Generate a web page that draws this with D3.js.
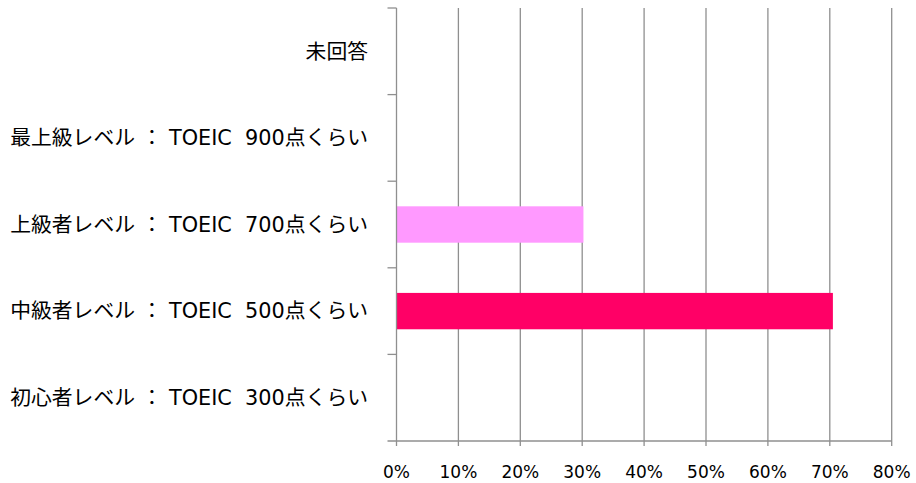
<!DOCTYPE html>
<html>
<head>
<meta charset="utf-8">
<script src="https://cdn.jsdelivr.net/npm/d3@7"></script>
<style>
  body { margin: 0; background: #fff; }
  text { font-family: "DejaVu Sans", "Noto Sans CJK JP", sans-serif; fill: #000; }
</style>
</head>
<body>
<script>
// categories top to bottom
const categories = [
  "未回答",
  "最上級レベル\u00a0：\u00a0TOEIC\u00a0\u00a0900点くらい",
  "上級者レベル\u00a0：\u00a0TOEIC\u00a0\u00a0700点くらい",
  "中級者レベル\u00a0：\u00a0TOEIC\u00a0\u00a0500点くらい",
  "初心者レベル\u00a0：\u00a0TOEIC\u00a0\u00a0300点くらい"
]
const values = [0, 0, 30.2, 70.5, 0]
const barColors = ["#FF99FF", "#FF99FF", "#FF99FF", "#FF0066", "#FF99FF"]
const xTicks = [0, 10, 20, 30, 40, 50, 60, 70, 80]

const W = 916, H = 483
const m = { left: 396.5, right: 891.7, top: 8, bottom: 441 }

const svg = d3.select("body").append("svg")
  .attr("width", W).attr("height", H)

const x = d3.scaleLinear().domain([0, 80]).range([m.left, m.right])
const y = d3.scaleBand().domain(categories).range([m.top, m.bottom]).paddingInner(0.58).paddingOuter(0.29)
const band = (m.bottom - m.top) / categories.length

const grid = svg.append("g")
grid.selectAll("line")
  .data(xTicks.slice(1))
  .enter()
  .append("line")
  .attr("x1", d => x(d)).attr("x2", d => x(d))
  .attr("y1", m.top).attr("y2", m.bottom + 5)
  .attr("stroke", "#8f8f8f").attr("stroke-width", 1.3)

// bars
svg.append("g").selectAll("rect")
  .data(values)
  .enter()
  .append("rect")
  .attr("x", x(0))
  .attr("y", (d, i) => y(categories[i]))
  .attr("width", d => x(d) - x(0))
  .attr("height", y.bandwidth())
  .attr("fill", (d, i) => barColors[i])

// y axis line + ticks
const ax = svg.append("g").attr("stroke", "#8f8f8f").attr("stroke-width", 1.3)
ax.append("line").attr("x1", m.left).attr("x2", m.left).attr("y1", m.top).attr("y2", m.bottom + 5)
ax.append("line").attr("x1", m.left - 9).attr("x2", m.right).attr("y1", m.bottom).attr("y2", m.bottom)
ax.selectAll(".yt")
  .data(d3.range(categories.length))
  .enter()
  .append("line")
  .attr("x1", m.left - 9).attr("x2", m.left)
  .attr("y1", i => m.top + i * band).attr("y2", i => m.top + i * band)

// category labels
svg.append("g").selectAll("text")
  .data(categories)
  .enter()
  .append("text")
  .attr("x", 368)
  .attr("y", d => y(d) + y.bandwidth() / 2)
  .attr("dy", "0.35em")
  .attr("text-anchor", "end")
  .attr("font-size", 20.8)
  .text(d => d)

// x tick labels
svg.append("g").selectAll("text")
  .data(xTicks)
  .enter()
  .append("text")
  .attr("x", d => x(d))
  .attr("y", 478)
  .attr("text-anchor", "middle")
  .attr("font-size", 17)
  .text(d => d + "%")
</script>
</body>
</html>
